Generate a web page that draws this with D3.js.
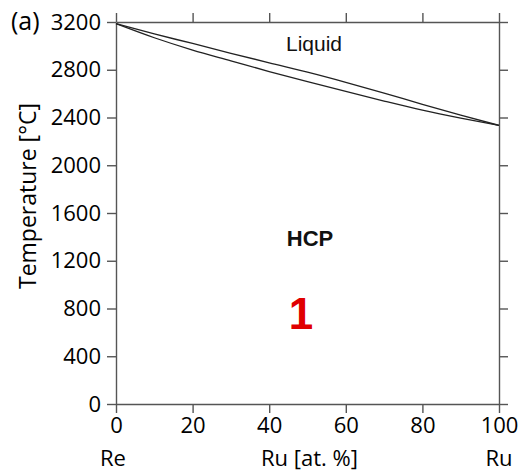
<!DOCTYPE html>
<html><head><meta charset="utf-8">
<script src="https://cdn.jsdelivr.net/npm/d3@7"></script>
<style>
body{margin:0;background:#fff;}
svg{display:block;}
.ax text{font-family:"Open Sans",sans-serif;font-size:22px;fill:#000;}
.ax path,.ax line{stroke:#555;stroke-width:1.4;}
</style></head>
<body><svg id="c" width="519" height="471"></svg>
<script>
const composition = [0,10,20,30,40,50,60,70,80,90,100];
const liquidus = [3186,3100,3020,2938,2858,2780,2695,2605,2510,2420,2334];
const solidus  = [3186,3068,2965,2875,2785,2700,2618,2538,2462,2395,2334];
const xTicks = [0,20,40,60,80,100];
const yTicks = [0,400,800,1200,1600,2000,2400,2800,3200];

const svg = d3.select("#c");
const L=116,T=22,R=499,B=404;
const x = d3.scaleLinear().domain([0,100]).range([L,R]);
const y = d3.scaleLinear().domain([0,3200]).range([B,T]);

svg.append("g").attr("class","ax").attr("transform",`translate(0,${B})`)
  .call(d3.axisBottom(x).tickValues(xTicks).tickSize(9).tickSizeOuter(0).tickPadding(4).tickFormat(d3.format("d")));
svg.append("g").attr("class","ax").attr("transform",`translate(0,${T})`)
  .call(d3.axisTop(x).tickValues(xTicks).tickSize(9).tickSizeOuter(0).tickFormat(""));
svg.append("g").attr("class","ax").attr("transform",`translate(${L},0)`)
  .call(d3.axisLeft(y).tickValues(yTicks).tickSize(9).tickSizeOuter(0).tickPadding(6).tickFormat(d3.format("d")));
svg.append("g").attr("class","ax").attr("transform",`translate(${R},0)`)
  .call(d3.axisRight(y).tickValues(yTicks).tickSize(9).tickSizeOuter(0).tickFormat(""));

const line = d3.line().x((d,i)=>x(composition[i])).y(d=>y(d)).curve(d3.curveMonotoneX);
[liquidus,solidus].forEach(s=>{
  svg.append("path").datum(s).attr("d",line).attr("fill","none")
    .attr("stroke","#222").attr("stroke-width",1.3);
});

const ff='"Open Sans",sans-serif';
svg.append("text").attr("x",11).attr("y",30).attr("font-family",ff).attr("font-size",25).attr("fill","#000").text("(a)");
svg.append("text").attr("transform","translate(36,196) rotate(-90)").attr("text-anchor","middle")
  .attr("font-family",ff).attr("font-size",23).attr("fill","#000").text("Temperature [°C]");
[["Re",0],["Ru [at. %]",50.5],["Ru",100]].forEach(([t,v])=>{
  svg.append("text").attr("x",x(v)+(v===0?-3:0)).attr("y",466).attr("text-anchor","middle")
    .attr("font-family",ff).attr("font-size",22).attr("fill","#000").text(t);
});
svg.append("text").attr("x",314).attr("y",51).attr("text-anchor","middle")
  .attr("font-family","Liberation Sans, Arial, sans-serif").attr("font-size",21).attr("fill","#111").text("Liquid");
svg.append("text").attr("x",310).attr("y",246).attr("text-anchor","middle")
  .attr("font-family","Liberation Sans, Arial, sans-serif").attr("font-weight","bold").attr("font-size",22).attr("fill","#111").text("HCP");
svg.append("text").attr("x",301).attr("y",329).attr("text-anchor","middle")
  .attr("font-family","Liberation Sans, Arial, sans-serif").attr("font-weight","bold").attr("font-size",44).attr("fill","#e00000").text("1");
</script></body></html>
